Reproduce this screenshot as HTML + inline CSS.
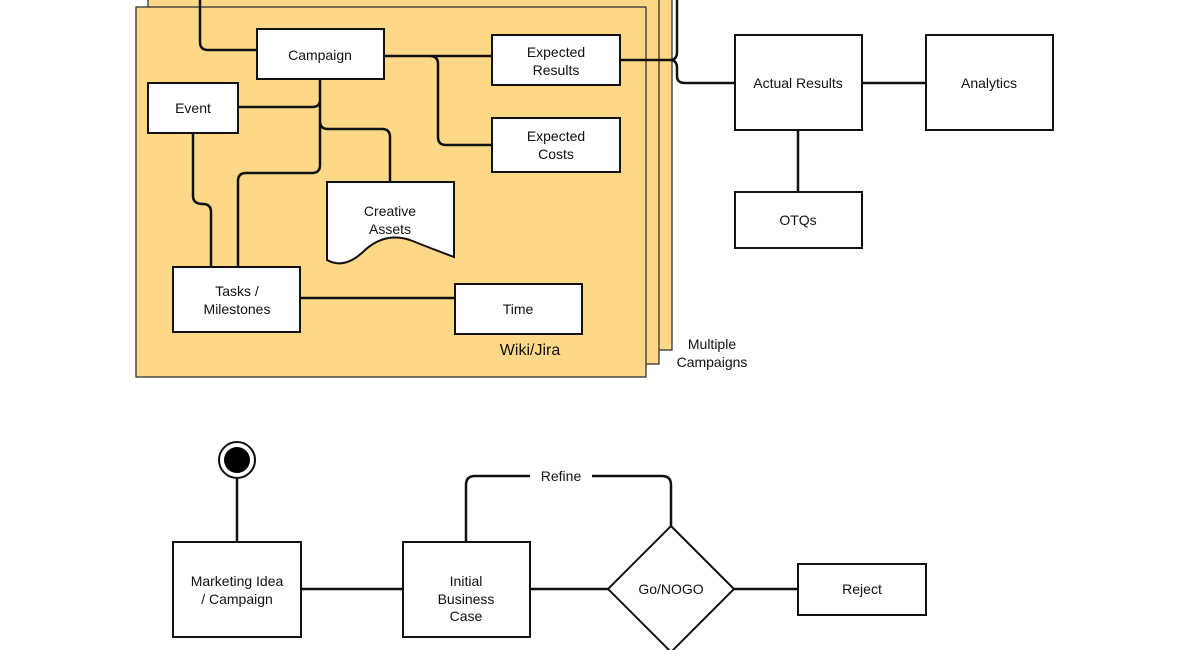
<!DOCTYPE html>
<html><head><style>body{margin:0;background:#fff}svg{display:block}text{font-family:"Liberation Sans",sans-serif;font-size:14px;fill:#111;text-anchor:middle}</style></head>
<body>
<svg width="1199" height="650" viewBox="0 0 1199 650">
<g stroke="#333" stroke-width="1.3" fill="#fdd888">
<rect x="160" y="-10" width="512" height="360"/>
<rect x="148" y="-3" width="511" height="367"/>
<rect x="136" y="7" width="510" height="370"/>
</g>
<g fill="none" stroke="#111" stroke-width="2.5">
<path d="M200 0 V42 Q200 50 208 50 H257"/>
<path d="M677 0 V52 Q677 60 670 60 H620 M670 60 Q677 60 677 68 V76 Q677 83 685 83 H735"/>
<path d="M384 56 H430 Q438 56 438 64 V137 Q438 145 446 145 H492 M430 56 H492"/>
<path d="M320 79 V100 Q320 107 312 107 H238 M320 100 V165 Q320 173 312 173 H246 Q238 173 238 181 V267 M320 100 V121 Q320 129 328 129 H382 Q390 129 390 137 V182"/>
<path d="M193 133 V196 Q193 204 203 204 Q211 204 211 212 V267"/>
<path d="M300 298 H455"/>
<path d="M862 83 H926 M798 130 V192"/>
<path d="M237 478 V542 M301 589 H403 M530 589 H608 M734 589 H798"/>
<path d="M466 542 V485 Q466 476 475 476 H530 M592 476 H662 Q671 476 671 485 V526"/>
</g>
<g fill="#fff" stroke="#111" stroke-width="2">
<rect x="257" y="29" width="127" height="50"/>
<rect x="492" y="35" width="128" height="50"/>
<rect x="492" y="118" width="128" height="54"/>
<rect x="148" y="83" width="90" height="50"/>
<path d="M327 182 H454 V257 Q430 248 410 240 Q385 232 365 250 Q345 270 327 260 Z"/>
<rect x="173" y="267" width="127" height="65"/>
<rect x="455" y="284" width="127" height="50"/>
<rect x="735" y="35" width="127" height="95"/>
<rect x="926" y="35" width="127" height="95"/>
<rect x="735" y="192" width="127" height="56"/>
<rect x="173" y="542" width="128" height="95"/>
<rect x="403" y="542" width="127" height="95"/>
<rect x="798" y="564" width="128" height="51"/>
<path d="M671 526 L734 589 L671 652 L608 589 Z"/>
<circle cx="237" cy="460" r="18"/>
</g>
<circle cx="237" cy="460" r="13" fill="#000"/>
<text x="320" y="60">Campaign</text>
<text x="556" y="57">Expected</text><text x="556" y="75">Results</text>
<text x="556" y="141">Expected</text><text x="556" y="159">Costs</text>
<text x="193" y="113">Event</text>
<text x="390" y="216">Creative</text><text x="390" y="234">Assets</text>
<text x="237" y="296">Tasks /</text><text x="237" y="314">Milestones</text>
<text x="518" y="314">Time</text>
<text x="530" y="355" style="font-size:16px">Wiki/Jira</text>
<text x="712" y="349">Multiple</text><text x="712" y="367">Campaigns</text>
<text x="798" y="88">Actual Results</text>
<text x="989" y="88">Analytics</text>
<text x="798" y="225">OTQs</text>
<text x="237" y="586">Marketing Idea</text><text x="237" y="604">/ Campaign</text>
<text x="466" y="586">Initial</text><text x="466" y="604">Business</text><text x="466" y="621">Case</text>
<text x="561" y="481">Refine</text>
<text x="671" y="594">Go/NOGO</text>
<text x="862" y="594">Reject</text>
</svg>
</body></html>
